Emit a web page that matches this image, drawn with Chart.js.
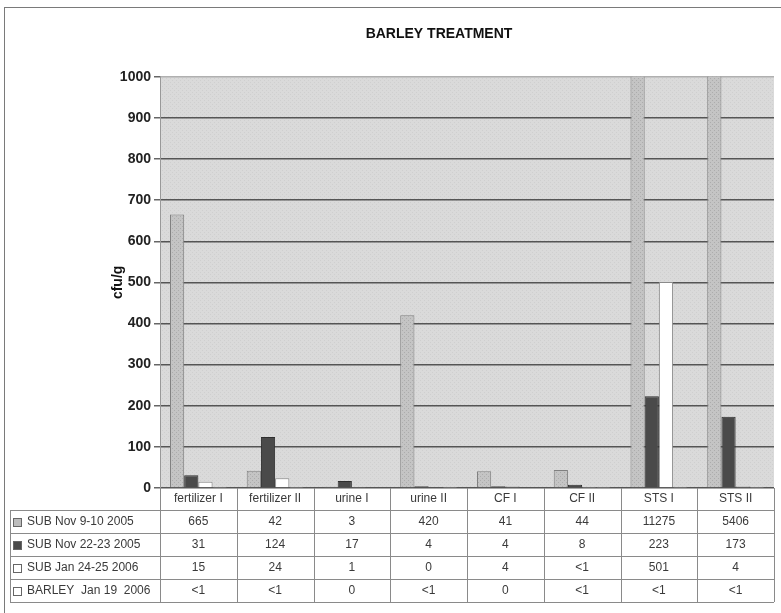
<!DOCTYPE html>
<html>
<head>
<meta charset="utf-8">
<script src="https://cdn.jsdelivr.net/npm/chart.js@4.4.1/dist/chart.umd.min.js"></script>
<style>
html,body{margin:0;padding:0;background:#fff;}
#wrap{width:781px;height:613px;position:relative;}
</style>
</head>
<body>
<div id="wrap"><canvas id="c" width="781" height="613"></canvas></div>
<script>
const categories = ["fertilizer I","fertilizer II","urine I","urine II","CF I","CF II","STS I","STS II"];
const seriesNames = ["SUB Nov 9-10 2005","SUB Nov 22-23 2005","SUB Jan 24-25 2006","BARLEY  Jan 19  2006"];
// 0.5 stands for "<1"
const subNov910 = [665, 42, 3, 420, 41, 44, 11275, 5406];
const subNov2223 = [31, 124, 17, 4, 4, 8, 223, 173];
const subJan2425 = [15, 24, 1, 0, 4, 0.5, 501, 4];
const barleyJan19 = [0.5, 0.5, 0, 0.5, 0, 0.5, 0.5, 0.5];
const yTicks = [0,100,200,300,400,500,600,700,800,900,1000];

function makePattern(base, dot, size) {
  const p = document.createElement('canvas');
  p.width = size; p.height = size;
  const g = p.getContext('2d');
  g.fillStyle = base; g.fillRect(0,0,size,size);
  g.fillStyle = dot;
  g.fillRect(0,0,1,1);
  g.fillRect(2,2,1,1);
  return document.getElementById('c').getContext('2d').createPattern(p,'repeat');
}
const plotBg = makePattern('#dadada', '#cfcfcf', 4);
const s1Fill = makePattern('#c4c4c4', '#acacac', 4);

const fills = [s1Fill, '#4a4a4a', '#ffffff', '#ffffff'];
const borders = ['#808080', '#2e2e2e', '#8a8a8a', '#8a8a8a'];
const iconFills = ['#bdbdbd', '#4a4a4a', '#ffffff', '#ffffff'];
const allSeries = [subNov910, subNov2223, subJan2425, barleyJan19];

function fmt(v){ if (v > 0 && v < 1) return '<1'; return String(v); }

const decor = {
  id: 'decor',
  beforeDraw(chart) {
    const ctx = chart.ctx, a = chart.chartArea;
    ctx.save();
    ctx.fillStyle = '#fff';
    ctx.fillRect(0,0,chart.width,chart.height);
    ctx.strokeStyle = '#7a7a7a';
    ctx.lineWidth = 1;
    ctx.strokeRect(4.5, 7.5, 820, 700);
    ctx.fillStyle = plotBg;
    ctx.fillRect(a.left, a.top, a.right - a.left, a.bottom - a.top);
    ctx.restore();
  },
  afterDraw(chart) {
    const ctx = chart.ctx, a = chart.chartArea, x = chart.scales.x;
    const rowH = 23;
    const top0 = a.bottom;
    const catRowBottom = top0 + 22;
    const tableLeft = 10;
    const n = categories.length;
    const step = (a.right - a.left) / n;
    ctx.save();
    ctx.strokeStyle = '#8a8a8a';
    ctx.lineWidth = 1;
    ctx.beginPath();
    for (let r = 0; r <= seriesNames.length; r++) {
      const y = Math.round(catRowBottom + r * rowH) + 0.5;
      ctx.moveTo(tableLeft, y); ctx.lineTo(a.right, y);
    }
    const yEnd = catRowBottom + seriesNames.length * rowH;
    for (let i = 0; i <= n; i++) {
      const xx = Math.round(a.left + i * step) + 0.5;
      ctx.moveTo(xx, top0); ctx.lineTo(xx, yEnd);
    }
    ctx.moveTo(tableLeft + 0.5, catRowBottom); ctx.lineTo(tableLeft + 0.5, yEnd);
    ctx.stroke();

    ctx.font = '12px "Liberation Sans", Arial, sans-serif';
    ctx.fillStyle = '#3a3a3a';
    ctx.textBaseline = 'middle';
    ctx.textAlign = 'center';
    categories.forEach((c, i) => {
      ctx.fillText(c, x.getPixelForValue(i), top0 + 11);
    });
    seriesNames.forEach((s, r) => {
      const yc = catRowBottom + r * rowH + rowH / 2 + 0.5;
      ctx.fillStyle = iconFills[r];
      ctx.fillRect(13.5, yc - 4, 8, 8);
      ctx.strokeStyle = '#666';
      ctx.strokeRect(13.5, Math.round(yc - 4) + 0.5, 8, 8);
      ctx.fillStyle = '#3a3a3a';
      ctx.textAlign = 'left';
      ctx.fillText(s, 27, yc);
      ctx.textAlign = 'center';
      allSeries[r].forEach((v, i) => {
        ctx.fillText(fmt(v), x.getPixelForValue(i), yc);
      });
    });
    ctx.restore();
  }
};

new Chart(document.getElementById('c'), {
  type: 'bar',
  data: {
    labels: categories,
    datasets: seriesNames.map((name, k) => ({
      label: name,
      data: allSeries[k],
      backgroundColor: fills[k],
      borderColor: borders[k],
      borderWidth: 1,
      borderSkipped: 'bottom',
      barPercentage: 1.0,
      categoryPercentage: 0.74
    }))
  },
  options: {
    responsive: false,
    animation: false,
    devicePixelRatio: 1,
    layout: { padding: { left: 104, right: 7, top: 8, bottom: 0 } },
    plugins: {
      legend: { display: false },
      tooltip: { enabled: false },
      title: {
        display: true,
        text: 'BARLEY TREATMENT',
        color: '#111',
        font: { family: '"Liberation Sans", Arial, sans-serif', size: 14, weight: 'bold' },
        padding: { top: 18, bottom: 34 }
      }
    },
    scales: {
      x: {
        grid: { display: false },
        border: { display: false },
        ticks: { display: false },
        afterFit(s) { s.height = 125; }
      },
      y: {
        min: 0, max: 1000,
        afterBuildTicks(s) { s.ticks = yTicks.map(v => ({ value: v })); },
        afterFit(s) { s.width = 56; },
        ticks: {
          color: '#222',
          padding: 3,
          callback: (v) => String(v),
          font: { family: '"Liberation Sans", Arial, sans-serif', size: 14, weight: 'bold' }
        },
        grid: {
          color: (c) => c.tick && c.tick.value === 1000 ? '#b0b0b0' : '#555',
          lineWidth: 1.5,
          tickLength: 6,
          tickColor: '#666'
        },
        border: { display: true, color: '#999', width: 1 },
        title: {
          display: true,
          text: 'cfu/g',
          color: '#111',
          font: { family: '"Liberation Sans", Arial, sans-serif', size: 14, weight: 'bold' },
          padding: { top: 6, bottom: 0 }
        }
      }
    }
  },
  plugins: [decor]
});
</script>
</body>
</html>
